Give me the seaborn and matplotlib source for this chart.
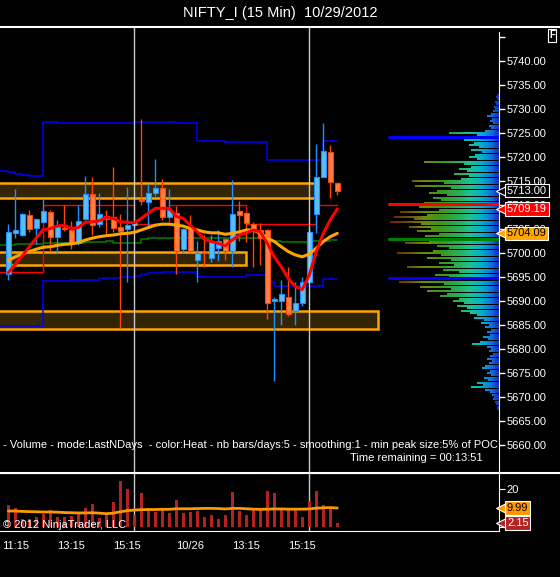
import numpy as np
import matplotlib
matplotlib.use("Agg")
import matplotlib.pyplot as plt
import matplotlib.transforms as mtransforms
from matplotlib.collections import LineCollection
from matplotlib.colors import LinearSegmentedColormap
from matplotlib.lines import Line2D
from matplotlib.patches import Rectangle
import seaborn as sns

# 15 min candles, 10/25 11:00 -> 10/29 10:15
opens = [5695.6, 5704.2, 5703.8, 5707.9, 5705.3, 5706.5, 5708.5, 5703.4, 5705.1, 5704.7,
         5702.0, 5707.0, 5712.2, 5706.0, 5707.7, 5707.6, 5705.35, 5704.9, 5705.9, 5710.9,
         5710.6, 5712.6, 5713.5, 5707.6, 5708.4, 5700.8, 5705.0, 5698.5, 5700.5, 5698.9,
         5701.0, 5702.9, 5700.5, 5708.7, 5708.3, 5706.0, 5704.8, 5704.8, 5689.9, 5689.9,
         5690.9, 5688.0, 5689.5, 5694.0, 5708.1, 5715.9, 5721.0, 5714.5]
highs = [5706.0, 5713.3, 5708.3, 5709.0, 5707.3, 5711.25, 5709.0, 5706.9, 5709.9, 5706.7,
         5709.9, 5716.0, 5715.8, 5712.4, 5709.0, 5717.9, 5708.1, 5713.75, 5706.5, 5727.9,
         5714.4, 5719.6, 5715.4, 5713.3, 5709.8, 5705.2, 5707.85, 5702.6, 5703.75, 5703.75,
         5704.8, 5703.1, 5715.2, 5710.8, 5708.5, 5706.5, 5706.2, 5705.0, 5690.9, 5694.4,
         5697.0, 5693.9, 5694.9, 5705.3, 5722.7, 5727.0, 5722.5, 5714.7]
lows = [5694.4, 5703.2, 5703.6, 5704.4, 5701.9, 5706.3, 5700.5, 5699.9, 5704.6, 5700.8,
        5701.7, 5706.8, 5703.75, 5705.5, 5703.9, 5704.4, 5684.3, 5694.0, 5705.5, 5710.0,
        5705.5, 5711.9, 5706.9, 5707.3, 5695.6, 5700.0, 5700.3, 5694.0, 5697.0, 5698.2,
        5698.4, 5698.5, 5697.0, 5702.4, 5702.2, 5697.1, 5697.6, 5686.2, 5673.3, 5684.9,
        5686.9, 5684.9, 5689.0, 5693.8, 5704.2, 5715.8, 5711.4, 5712.1]
closes = [5704.4, 5704.8, 5708.1, 5705.1, 5707.1, 5708.75, 5703.4, 5705.8, 5705.0, 5701.9,
          5706.6, 5712.2, 5705.8, 5708.1, 5707.0, 5705.3, 5704.5, 5705.8, 5706.2, 5710.8,
          5712.6, 5713.5, 5707.4, 5709.0, 5700.5, 5705.0, 5700.5, 5699.9, 5700.0, 5702.2,
          5702.4, 5700.5, 5708.1, 5707.85, 5706.3, 5704.9, 5703.05, 5689.5, 5690.5, 5691.4,
          5687.2, 5689.5, 5694.0, 5704.3, 5715.9, 5721.3, 5714.7, 5713.0]

volume = [11.6, 10.2, 4.2, 4.1, 5.4, 6.8, 8.9, 5.4, 5.4, 6.0, 7.7, 10.0, 12.1, 4.9, 7.0, 13.3,
          24.2, 20.0, 6.3, 17.9, 8.9, 8.1, 8.9, 7.5, 14.2, 7.5, 8.1, 8.4, 5.5, 6.3, 4.2, 6.5,
          18.4, 8.6, 6.3, 9.8, 8.9, 18.9, 17.7, 9.8, 9.3, 9.3, 5.5, 13.7, 18.9, 11.4, 10.7, 2.15]
vol_ma = [8.4, 8.4, 8.2, 8.1, 8.0, 7.9, 7.9, 7.8, 7.6, 7.5, 7.4, 7.4, 7.5, 7.3, 7.0, 7.3,
          8.0, 8.6, 8.9, 9.1, 9.2, 9.2, 9.3, 9.3, 9.6, 9.6, 9.6, 9.7, 9.8, 9.8, 9.7, 9.5,
          9.8, 9.8, 9.6, 9.4, 9.3, 9.4, 9.5, 9.5, 9.4, 9.4, 9.4, 9.5, 9.9, 10.1, 10.2, 9.99]

# moving averages
ma_fast = [5695.9, 5697.6, 5699.4, 5701.3, 5703.1, 5704.9, 5705.1, 5705.6, 5705.8, 5705.1,
           5705.3, 5706.4, 5706.5, 5706.7, 5707.4, 5707.2, 5706.5, 5706.4, 5706.3, 5707.2,
           5708.3, 5709.3, 5709.3, 5709.3, 5707.6, 5707.2, 5705.8, 5704.4, 5702.85, 5702.4,
           5702.0, 5701.5, 5702.7, 5703.75, 5704.2, 5704.8, 5704.4, 5702.0, 5699.2, 5697.1,
           5694.7, 5693.0, 5692.4, 5695.4, 5700.3, 5704.1, 5706.9, 5709.19]
ma_slow = [5698.5, 5699.2, 5699.8, 5700.3, 5700.8, 5701.2, 5701.3, 5701.6, 5701.8, 5701.9,
           5702.15, 5702.7, 5703.1, 5703.4, 5703.6, 5703.75, 5704.0, 5704.1, 5704.3, 5704.8,
           5705.3, 5705.8, 5706.0, 5706.0, 5705.8, 5705.6, 5705.1, 5704.8, 5704.4, 5704.2,
           5704.2, 5703.9, 5704.1, 5704.4, 5704.8, 5704.8, 5704.1, 5703.1, 5702.4, 5701.3,
           5700.3, 5699.6, 5699.2, 5699.8, 5701.0, 5702.4, 5703.4, 5704.09]

# step lines: first value is the level left of bar 0
upper_band = [5717.1, 5716.9, 5716.5, 5716.2, 5716.0, 5716.0, 5727.2, 5727.2] + [5727.0] * 11 + \
             [5727.2] * 6 + [5727.0] * 3 + [5723.3] * 4 + [5723.1] * 6 + [5719.3] * 8 + [5723.3] * 3
lower_band = [5684.8] * 6 + [5694.1] * 4 + [5694.3] * 2 + [5694.4] * 2 + [5694.7] * 3 + \
             [5694.9] * 2 + [5695.2, 5695.6] + [5695.8] * 2 + [5696.0] * 5 + [5694.9] * 2 + \
             [5695.1] * 5 + [5695.4] * 3 + [5693.9] + [5693.1] * 7 + [5694.5] * 3
pivot_line = [5696.0] * 6 + [5709.9] * 13 + [5706.0] * 5 + [5709.9] * 11 + [5706.0] * 10 + [5709.9] * 4
green_line = [5701.7, 5701.7] + [5701.9] * 4 + [5702.15] * 6 + [5702.2] * 3 + [5702.4] + \
             [5702.0] * 4 + [5702.85] + [5703.1] * 17 + [5702.6] * 2 + [5702.2] * 4 + \
             [5702.4] + [5702.5] * 2 + [5702.7] * 2

# zones (top, bottom, last bar)
zone_top = [5714.65, 5700.27, 5688.0]
zone_bottom = [5711.46, 5697.56, 5684.1]
zone_end = [44.1, 34.0, 52.8]

# volume profile, 0.5 pt rows from 5733.0 down (POC = 110)
prof_vol = [2, 3, 2, 4, 3, 5, 4, 6, 8, 12,
            7, 9, 6, 10, 8, 14, 50, 22, 18, 35,
            25, 30, 20, 28, 17, 24, 30, 22, 75, 35,
            28, 40, 32, 45, 30, 38, 87, 55, 84, 48,
            62, 70, 52, 66, 58, 75, 64, 80, 60, 99,
            72, 105, 85, 109, 78, 90, 68, 82, 60, 74,
            55, 70, 94, 62, 50, 66, 102, 58, 72, 48,
            60, 45, 92, 56, 40, 64, 50, 60, 100, 55,
            79, 48, 72, 52, 59, 40, 46, 35, 42, 32,
            38, 29, 22, 25, 15, 18, 10, 14, 8, 12,
            9, 16, 11, 19, 27, 12, 8, 10, 6, 9,
            12, 7, 10, 14, 17, 9, 12, 8, 15, 11,
            22, 16, 28, 14, 9, 7, 5, 6, 4, 3,
            2, 2]
prof_levels = 5733.0 - 0.5 * np.arange(len(prof_vol))
prof_poc = 110
prof_marks = [5724.2, 5710.2, 5702.85, 5694.8]
prof_mark_colors = ["#0000FF", "#FF0000", "#008000", "#0000FF"]

session_breaks = [18, 43]
tick_pos = [1, 9, 17, 26, 34, 42]
tick_lab = ["11:15", "13:15", "15:15", "10/26", "13:15", "15:15"]

# ---------------------------------------------------------------
sns.set_style("dark", {"axes.facecolor": "black", "figure.facecolor": "black",
                       "axes.edgecolor": "white", "text.color": "white"})
plt.rcParams["font.family"] = ["Liberation Sans", "DejaVu Sans"]

W, H = 560, 577
fig = plt.figure(figsize=(W / 100, H / 100), dpi=100)
fig.patch.set_facecolor("black")

def fy(py):
    return 1 - py / H

ax = fig.add_axes([0, fy(473), 499 / W, (473 - 27) / H])
axv = fig.add_axes([0, fy(531), 499 / W, (531 - 473) / H], sharex=ax)

x_left, x_right = -1.186, 70.1
idx = np.arange(len(closes))
o, h, l, c = map(np.array, (opens, highs, lows, closes))
up = c >= o

# zones
for t, b, e in zip(zone_top, zone_bottom, zone_end):
    ax.add_patch(Rectangle((x_left - 1, b), e - x_left + 1, t - b, fc="#352508",
                           ec="#FFA500", lw=1.8, zorder=1))

# volume profile with heat gradient
heat = LinearSegmentedColormap.from_list("heat", [
    (0.0, "#1030E0"), (0.06, "#1E78FF"), (0.15, "#00C8F0"), (0.26, "#20E0B0"),
    (0.38, "#30C860"), (0.53, "#40B020"), (0.68, "#80A010"), (0.82, "#7A6008"),
    (1.0, "#8B1A00")])
unit = (x_right - x_left) / 499
segs, cols = [], []
for p, v in zip(prof_levels, prof_vol):
    d = 0
    while d < v:
        d2 = min(d + 2, v)
        segs.append([(x_right - d * unit, p), (x_right - d2 * unit, p)])
        cols.append(heat((d + d2) / 2 / prof_poc))
        d = d2
ax.add_collection(LineCollection(segs, colors=cols, linewidths=1.25, zorder=2))
for p, col in zip(prof_marks, prof_mark_colors):
    ax.plot([x_right - prof_poc * unit, x_right], [p, p], color=col, lw=2.2, zorder=2)

# step lines
xs = np.concatenate([[x_left - 1], idx])
ax.step(xs, upper_band, where="post", color="#0000FF", lw=1.1, zorder=3)
ax.step(xs, lower_band, where="post", color="#0000FF", lw=1.1, zorder=3)
ax.step(xs, pivot_line, where="post", color="#FF0000", lw=1.0, zorder=3)
ax.step(xs, green_line, where="post", color="#008000", lw=1.1, zorder=3)

# candles
ax.vlines(idx[up], l[up], h[up], color="#1E90FF", lw=1, zorder=4)
ax.vlines(idx[~up], l[~up], h[~up], color="#FF4500", lw=1, zorder=4)
body_lo = np.minimum(o, c)
body_h = np.maximum(np.abs(c - o), 0.15)
ax.bar(idx[up], body_h[up], bottom=body_lo[up], width=0.7, color="#5BBDF2",
       edgecolor="#1E90FF", lw=0.8, zorder=5)
ax.bar(idx[~up], body_h[~up], bottom=body_lo[~up], width=0.7, color="#FF7F45",
       edgecolor="#FF4500", lw=0.8, zorder=5)

for b in session_breaks:
    ax.axvline(b, color="#C8C8C8", lw=1, zorder=6)
    axv.axvline(b, color="#C8C8C8", lw=1, zorder=1)

sns.lineplot(x=idx, y=ma_slow, ax=ax, color="#FFA500", lw=2.2, zorder=7)
sns.lineplot(x=idx, y=ma_fast, ax=ax, color="#FF0000", lw=2.2, zorder=8)

ax.set_xlim(x_left, x_right)
ax.set_ylim(5654.17, 5747.08)
ax.set_xlabel("")
ax.set_ylabel("")
ax.yaxis.tick_right()
yt = np.arange(5660, 5750, 5)
ax.set_yticks(yt)
ax.set_yticklabels([f"{v:.2f}" if v < 5745 else "" for v in yt])
ax.tick_params(axis="y", colors="white", labelcolor="white", length=4, width=1,
               labelsize=8, pad=1.5, direction="out")
ax.tick_params(axis="x", bottom=False, labelbottom=False)
for s in ["left", "top", "bottom"]:
    ax.spines[s].set_visible(False)
ax.spines["right"].set_color("white")
ax.spines["right"].set_bounds(5654.17, 5746.0)
ax.grid(False)

# volume panel
axv.bar(idx, volume, width=0.45, color="#B22222", edgecolor="none", lw=0, zorder=2)
sns.lineplot(x=idx, y=vol_ma, ax=axv, color="#FF9900", lw=2.0, zorder=3)
axv.set_ylim(-2.1, 28.4)
axv.set_xlabel("")
axv.set_ylabel("")
axv.yaxis.tick_right()
axv.set_yticks([0, 20])
axv.set_yticklabels(["0", "20"])
axv.set_xticks(tick_pos)
axv.set_xticklabels(tick_lab)
axv.tick_params(axis="y", colors="white", labelcolor="white", length=4, labelsize=8, pad=1.5)
axv.tick_params(axis="x", colors="white", labelcolor="white", length=4, labelsize=8, pad=3)
axv.spines["left"].set_visible(False)
for s in ["top", "bottom", "right"]:
    axv.spines[s].set_color("white")
axv.grid(False)

# price tags on axis
def tag(a, y, txt, fc, tc):
    tr = mtransforms.blended_transform_factory(a.transAxes, a.transData)
    a.plot([1.006], [y], marker="<", ms=8, color=fc, mec="white", mew=0.8,
           transform=tr, clip_on=False, zorder=20)
    a.text(1.016, y, txt, transform=tr, va="center", ha="left", fontsize=8, color=tc,
           bbox=dict(boxstyle="square,pad=0.15", fc=fc, ec="white", lw=0.8),
           clip_on=False, zorder=21)

tag(ax, closes[-1], f"{closes[-1]:.2f}", "black", "white")
tag(ax, ma_fast[-1], f"{ma_fast[-1]:.2f}", "#FF0000", "white")
tag(ax, ma_slow[-1], f"{ma_slow[-1]:.2f}", "#FFA500", "black")
tag(axv, vol_ma[-1], f"{vol_ma[-1]:.2f}", "#FF9900", "black")
tag(axv, volume[-1], f"{volume[-1]:.2f}", "#B22222", "white")

# frame lines and texts
fig.add_artist(Line2D([0, 1], [fy(27), fy(27)], color="white", lw=1.5, transform=fig.transFigure))
fig.add_artist(Line2D([0, 1], [fy(473), fy(473)], color="white", lw=1.5, transform=fig.transFigure))
fig.text(0.5, fy(13), "NIFTY_I (15 Min)  10/29/2012", ha="center", va="center",
         color="white", fontsize=10.5)
fig.text(3 / W, fy(445), "- Volume - mode:LastNDays  - color:Heat - nb bars/days:5 - "
         "smoothing:1 - min peak size:5% of POC", ha="left", va="center", color="white", fontsize=8.0)
fig.text(483 / W, fy(458), "Time remaining = 00:13:51", ha="right", va="center",
         color="white", fontsize=8.0)
fig.text(3 / W, fy(525), "\u00a9 2012 NinjaTrader, LLC", ha="left", va="center",
         color="white", fontsize=8.0)
fig.text(552 / W, fy(35.5), "F", ha="center", va="center", color="white", fontsize=7,
         fontweight="bold", bbox=dict(boxstyle="square,pad=0.15", fc="black", ec="white", lw=0.8))

fig.savefig("out.png", dpi=100, facecolor="black")
